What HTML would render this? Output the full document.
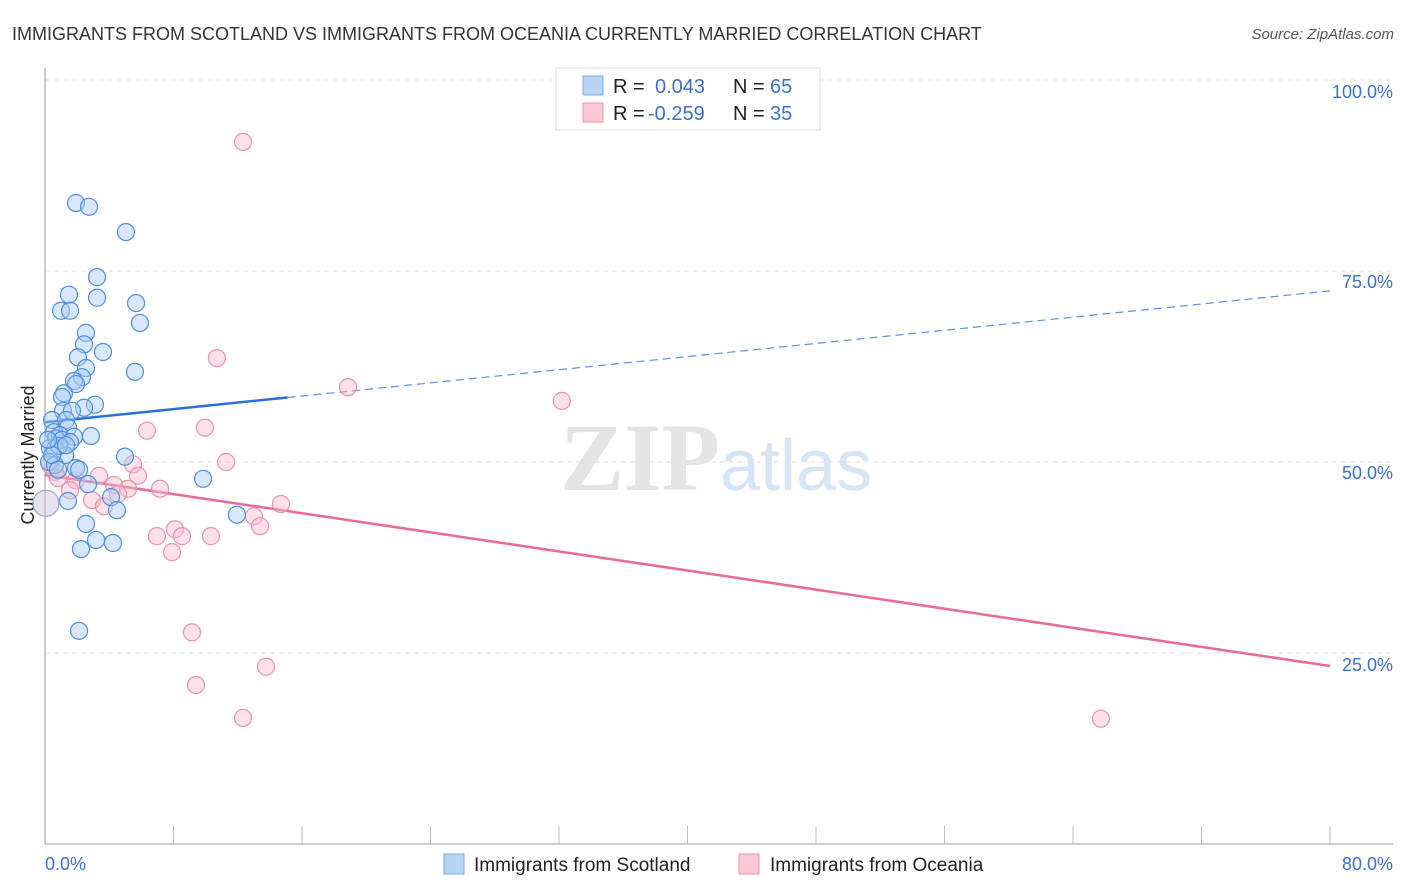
<!DOCTYPE html>
<html><head><meta charset="utf-8"><style>
body{margin:0;background:#fff;font-family:"Liberation Sans",sans-serif;}
#wrap{position:relative;width:1406px;height:892px;overflow:hidden;}
</style></head><body>
<div id="wrap">
<svg id="svg" width="1406" height="892" xmlns="http://www.w3.org/2000/svg">
<text x="12" y="40" font-size="18" fill="#333">IMMIGRANTS FROM SCOTLAND VS IMMIGRANTS FROM OCEANIA CURRENTLY MARRIED CORRELATION CHART</text>
<text x="1394" y="39" font-size="15" fill="#555" font-style="italic" text-anchor="end">Source: ZipAtlas.com</text>
<text x="720" y="490" font-size="96" fill="#e4e4e4" text-anchor="end" font-family="Liberation Serif" font-weight="bold">ZIP</text>
<text x="720" y="490" font-size="72" fill="#d6e4f5">atlas</text>
<text transform="translate(34,455) rotate(-90)" font-size="18" fill="#222" text-anchor="middle">Currently Married</text>
<g id="grid"></g><g id="axes"></g><g id="lines"></g><g id="pts"></g>
<g>
<rect x="556" y="68" width="264" height="62" fill="#fff" stroke="#ddd"/>
<rect x="583" y="76" width="20" height="19" fill="#b8d4f5" stroke="#7aa7e0"/>
<text x="613" y="93" font-size="20" fill="#222">R =</text><text x="655" y="93" font-size="20" fill="#3a70d0">0.043</text>
<text x="733" y="93" font-size="20" fill="#222">N =</text><text x="770" y="93" font-size="20" fill="#3a70d0">65</text>
<rect x="583" y="103" width="20" height="19" fill="#fcc8d6" stroke="#e896ae"/>
<text x="613" y="120" font-size="20" fill="#222">R =</text><text x="648" y="120" font-size="20" fill="#3a70d0">-0.259</text>
<text x="733" y="120" font-size="20" fill="#222">N =</text><text x="770" y="120" font-size="20" fill="#3a70d0">35</text>
</g>
<g>
<rect x="444" y="854" width="20" height="20" fill="#b8d4f5" stroke="#7aa7e0"/>
<text x="474" y="871" font-size="19" fill="#222">Immigrants from Scotland</text>
<rect x="739" y="854" width="20" height="20" fill="#fcc8d6" stroke="#e896ae"/>
<text x="770" y="871" font-size="19" fill="#222">Immigrants from Oceania</text>
</g>
</svg>
</div>
<script>
const blueX=[1.93,2.74,5.04,3.24,1.49,3.24,5.67,1.0,1.56,5.91,2.55,2.43,3.61,2.05,2.55,5.6,2.3,1.8,1.93,1.18,1.06,3.11,2.43,1.12,1.68,0.44,1.31,1.43,0.56,0.93,0.68,1.06,1.8,2.86,1.56,0.31,0.62,1.25,4.98,0.25,0.62,1.93,2.12,9.84,2.68,4.11,1.43,4.48,11.95,2.55,3.18,4.23,2.24,2.12,0.87,0.44,0.81,0.19,1.31];
const blueY=[83.9,83.4,80.1,74.2,71.9,71.5,70.8,69.8,69.8,68.2,66.9,65.4,64.4,63.7,62.3,61.8,61.1,60.6,60.2,59.0,58.5,57.5,57.1,56.7,56.7,55.5,55.5,54.5,53.9,53.5,53.1,52.9,53.3,53.4,52.6,51.8,51.7,50.9,50.7,50.0,49.6,49.2,49.0,47.8,47.1,45.4,44.9,43.7,43.1,41.9,39.8,39.4,38.6,27.9,52.1,50.9,49.0,52.9,52.2];
const pinkX=[12.33,10.7,18.86,32.18,6.35,9.96,11.27,5.48,5.79,3.36,0.62,0.81,1.93,4.3,5.17,7.16,1.56,4.54,2.93,3.67,14.69,13.01,13.39,8.09,8.53,6.97,10.33,7.91,9.15,13.76,9.4,12.33,65.74,0.31];
const pinkY=[91.9,63.6,59.8,58.0,54.1,54.5,50.0,49.7,48.2,48.2,48.7,47.9,47.6,47.0,46.5,46.5,46.3,45.8,45.0,44.2,44.5,42.9,41.6,41.2,40.3,40.3,40.3,38.2,27.7,23.2,20.8,16.5,16.4,49.6];
const bigX=[0.06,0.12], bigY=[44.6,44.6];
const blueTrend=[55.2,72.4], pinkTrend=[48.3,23.3]; // value at x=0 and x=80
const yTicks=[25,50,75,100], xTickLabels=["0.0%","80.0%"];
const NS="http://www.w3.org/2000/svg";
const sx=v=>45+v/80*1285, sy=v=>844-v/100*764;
function mk(t,a,p){const e=document.createElementNS(NS,t);for(const k in a)e.setAttribute(k,a[k]);document.getElementById(p).appendChild(e);return e;}
yTicks.forEach(t=>{
 const l=mk('line',{x1:45,x2:1393,y1:sy(t),y2:sy(t),stroke:'#e2e2e2','stroke-dasharray':'5,4'},'grid');
 
 
 const tx=mk('text',{x:1393,y:sy(t)+7+ (t==100?11:t==75?10:t==50?10:11),'font-size':18,fill:'#3a70d0','text-anchor':'end'},'grid');
 tx.textContent=t.toFixed(1)+'%';
 
 
});
const ax=mk('line',{x1:45,x2:1393,y1:844,y2:844,stroke:'#bbb','stroke-width':1.5},'axes');


const ay=mk('line',{x1:45,x2:45,y1:68,y2:844,stroke:'#bbb','stroke-width':1.5},'axes');


for(let i=0;i<=10;i++){const t=mk('line',{x1:sx(i*8),x2:sx(i*8),y1:826,y2:844,stroke:'#bbb'},'axes');
 
 }
[[0,'start',45],[80,'end',1393]].forEach((d,i)=>{const t=mk('text',{x:d[2],y:870,'font-size':18,fill:'#3a70d0','text-anchor':d[1]},'axes');t.textContent=xTickLabels[i];
 
 });
const bAt=x=>blueTrend[0]+(blueTrend[1]-blueTrend[0])*x/80;
let l1=mk('line',{x1:sx(0),y1:sy(bAt(0)),x2:sx(15.1),y2:sy(bAt(15.1)),stroke:'#2a6fd6','stroke-width':2.5},'lines');


let l2=mk('line',{x1:sx(15.1),y1:sy(bAt(15.1)),x2:sx(80),y2:sy(bAt(80)),stroke:'#5a8ee0','stroke-width':1.2,'stroke-dasharray':'8,5'},'lines');


let l3=mk('line',{x1:sx(0),y1:sy(pinkTrend[0]),x2:sx(80),y2:sy(pinkTrend[1]),stroke:'#e8699a','stroke-width':2.5},'lines');


function pts(X,Y,f,s,name,r){X.forEach((x,i)=>{const c=mk('circle',{cx:sx(x),cy:sy(Y[i]),r:r,fill:f,'fill-opacity':0.45,stroke:s,'stroke-width':1.2},'pts');
 
 });}
pts(pinkX,pinkY,'#f8bccd','#e893ad','point-oceania',8.5);
pts(blueX,blueY,'#a9cbf3','#4f8de0','point-scotland',8.5);
pts([bigX[0]],[bigY[0]],'#c8c0dc','#9aa8d8','point-large',13);
</script>
</body></html>
